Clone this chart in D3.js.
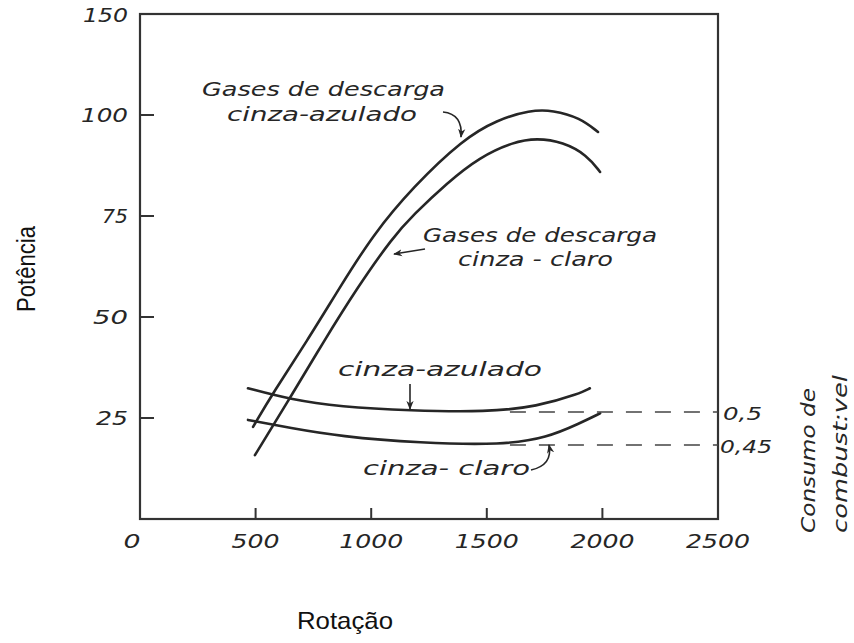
<!DOCTYPE html>
<html>
<head>
<meta charset="utf-8">
<script src="https://cdn.jsdelivr.net/npm/d3@7"></script>
<style>
body { margin: 0; background: #fff; }
.hand { font-family: "DejaVu Sans", sans-serif; font-style: italic; fill: #262626; }
.plain { font-family: "Liberation Sans", Arial, sans-serif; fill: #111; }
</style>
</head>
<body>
<svg id="chart" width="854" height="643"></svg>
<script>
// potência curves (rotação, potência)
var gasAzulRpm = [489, 575, 722, 865, 1008, 1181, 1397, 1544, 1687, 1786, 1903, 1981];
var gasAzulPot = [22.8, 31.2, 44.0, 57.4, 70.4, 82.2, 94.0, 98.8, 101.2, 101.2, 99.3, 95.8];
var gasClaroRpm = [497, 649, 791, 939, 1094, 1181, 1328, 1470, 1613, 1717, 1830, 1933, 1990];
var gasClaroPot = [15.8, 30.0, 43.6, 57.2, 69.8, 75.2, 83.2, 89.6, 93.3, 94.3, 93.3, 90.1, 85.9];

// consumo de combustível curves (rotação, consumo)
var consAzulRpm = [467, 649, 865, 1168, 1501, 1717, 1903, 1946];
var consAzulVal = [0.536, 0.519, 0.508, 0.502, 0.500, 0.508, 0.528, 0.536];
var consClaroRpm = [467, 649, 865, 1211, 1570, 1760, 1903, 1990];
var consClaroVal = [0.488, 0.476, 0.463, 0.453, 0.450, 0.461, 0.483, 0.498];

// dashed reference lines on the right axis
var fuelRefValues = [0.5, 0.45];
var fuelRefLabels = ["0,5", "0,45"];
var fuelRefStart = [1600, 1600];

// ticks
var xTickValues = [0, 500, 1000, 1500, 2000, 2500];
var xTickLabels = ["0", "500", "1000", "1500", "2000", "2500"];
var yTickValues = [25, 50, 75, 100];
var yTickLabels = ["25", "50", "75", "100"];
var yTopLabel = "150";   // the original prints 150 at the top edge

function renderChart() {
	var svg = d3.select("#chart");
	var ink = "#262626";

	var x = d3.scaleLinear().domain([0, 2500]).range([140, 718]);
	var y = d3.scaleLinear().domain([0, 125]).range([519, 14]);
	var yFuel = d3.scaleLinear().domain([0.45, 0.5]).range([445, 412]);

	var defs = svg.append("defs");
	defs.append("marker")
		.attr("id", "head")
		.attr("viewBox", "0 0 10 8")
		.attr("refX", 9).attr("refY", 4)
		.attr("markerWidth", 9).attr("markerHeight", 8)
		.attr("markerUnits", "userSpaceOnUse")
		.attr("orient", "auto")
		.append("path").attr("d", "M0,0 L10,4 L0,8 L3,4 Z").attr("fill", ink);

	// frame
	svg.append("rect")
		.attr("x", x(0)).attr("y", y(125))
		.attr("width", x(2500) - x(0)).attr("height", y(0) - y(125))
		.attr("fill", "none").attr("stroke", "#333").attr("stroke-width", 2.2);

	// y ticks (inside)
	svg.append("g").selectAll("line").data(yTickValues).enter().append("line")
		.attr("x1", x(0)).attr("x2", x(0) + 14)
		.attr("y1", function(d) { return y(d); })
		.attr("y2", function(d) { return y(d); })
		.attr("stroke", "#333").attr("stroke-width", 2);
	var yLabWidth = { "25": 32, "50": 35, "75": 26, "100": 47 };
	svg.append("g").selectAll("text").data(yTickValues).enter().append("text")
		.attr("class", "hand")
		.attr("x", 128)
		.attr("y", function(d) { return y(d) + 7; })
		.attr("text-anchor", "end")
		.attr("font-size", 19)
		.attr("textLength", function(d, i) { return yLabWidth[yTickLabels[i]]; })
		.attr("lengthAdjust", "spacingAndGlyphs")
		.text(function(d, i) { return yTickLabels[i]; });
	svg.append("text").attr("class", "hand")
		.attr("x", 128).attr("y", y(125) + 8)
		.attr("text-anchor", "end").attr("font-size", 19)
		.attr("textLength", 45).attr("lengthAdjust", "spacingAndGlyphs")
		.text(yTopLabel);

	// x ticks (inside, except ends)
	svg.append("g").selectAll("line").data(xTickValues.slice(1, -1)).enter().append("line")
		.attr("x1", function(d) { return x(d); })
		.attr("x2", function(d) { return x(d); })
		.attr("y1", y(0)).attr("y2", y(0) - 11)
		.attr("stroke", "#333").attr("stroke-width", 2);
	svg.append("g").selectAll("text").data(xTickValues).enter().append("text")
		.attr("class", "hand")
		.attr("x", function(d) { return x(d) + (d == 0 ? -8 : 0); })
		.attr("y", 548)
		.attr("text-anchor", "middle")
		.attr("font-size", 19)
		.attr("textLength", function(d, i) { return xTickLabels[i].length == 1 ? 17 : xTickLabels[i].length * 16; })
		.attr("lengthAdjust", "spacingAndGlyphs")
		.text(function(d, i) { return xTickLabels[i]; });

	// curves
	var line = d3.line()
		.x(function(d) { return x(d[0]); })
		.y(function(d) { return d[2](d[1]); })
		.curve(d3.curveBasis);
	var series = [
		[gasAzulRpm, gasAzulPot, y],
		[gasClaroRpm, gasClaroPot, y],
		[consAzulRpm, consAzulVal, yFuel],
		[consClaroRpm, consClaroVal, yFuel]
	];
	var g_line = svg.append("g");
	for (var i = 0; i < series.length; ++i) {
		var pts = series[i][0].map(function(r, j) { return [r, series[i][1][j], series[i][2]]; });
		g_line.append("path")
			.attr("d", line(pts))
			.attr("fill", "none")
			.attr("stroke", ink)
			.attr("stroke-width", 2.6)
			.attr("stroke-linecap", "round");
	}

	// dashed reference lines and right labels
	svg.append("g").selectAll("line").data(fuelRefValues).enter().append("line")
		.attr("x1", function(d, i) { return x(fuelRefStart[i]); })
		.attr("x2", x(2500))
		.attr("y1", function(d) { return yFuel(d); })
		.attr("y2", function(d) { return yFuel(d); })
		.attr("stroke", "#444").attr("stroke-width", 1.6)
		.attr("stroke-dasharray", "16,13");
	svg.append("g").selectAll("text").data(fuelRefValues).enter().append("text")
		.attr("class", "hand")
		.attr("x", function(d, i) { return i == 0 ? 723 : 720; })
		.attr("y", function(d) { return yFuel(d) + 8; })
		.attr("font-size", 18)
		.attr("textLength", function(d, i) { return i == 0 ? 39 : 52; })
		.attr("lengthAdjust", "spacingAndGlyphs")
		.text(function(d, i) { return fuelRefLabels[i]; });

	// annotations
	var notes = [
		{ t: "Gases de descarga", x: 202, y: 96, w: 243 },
		{ t: "cinza-azulado", x: 227, y: 121, w: 190 },
		{ t: "Gases de descarga", x: 423, y: 242, w: 234 },
		{ t: "cinza - claro", x: 458, y: 266, w: 155 },
		{ t: "cinza-azulado", x: 338, y: 376, w: 204 },
		{ t: "cinza- claro", x: 363, y: 475, w: 167 }
	];
	svg.append("g").selectAll("text").data(notes).enter().append("text")
		.attr("class", "hand")
		.attr("x", function(d) { return d.x; })
		.attr("y", function(d) { return d.y; })
		.attr("font-size", 19)
		.attr("textLength", function(d) { return d.w; })
		.attr("lengthAdjust", "spacingAndGlyphs")
		.text(function(d) { return d.t; });

	var arrows = [
		"M443,112 Q463,114 461,137",
		"M425,249 L394,254",
		"M410,384 L410,409",
		"M531,470 Q553,465 549,445"
	];
	svg.append("g").selectAll("path").data(arrows).enter().append("path")
		.attr("d", function(d) { return d; })
		.attr("fill", "none").attr("stroke", ink).attr("stroke-width", 1.6)
		.attr("marker-end", "url(#head)");

	// axis titles
	svg.append("text").attr("class", "plain")
		.attr("transform", "translate(35,269) rotate(-90)")
		.attr("text-anchor", "middle").attr("font-size", 26)
		.attr("textLength", 86).attr("lengthAdjust", "spacingAndGlyphs")
		.text("Potência");
	svg.append("text").attr("class", "plain")
		.attr("x", 345).attr("y", 629)
		.attr("text-anchor", "middle").attr("font-size", 24)
		.attr("textLength", 96).attr("lengthAdjust", "spacingAndGlyphs")
		.text("Rotação");
	svg.append("text").attr("class", "hand")
		.attr("transform", "translate(815,533) rotate(-90)")
		.attr("font-size", 20)
		.attr("textLength", 145).attr("lengthAdjust", "spacingAndGlyphs")
		.text("Consumo de");
	svg.append("text").attr("class", "hand")
		.attr("transform", "translate(847,533) rotate(-90)")
		.attr("font-size", 20)
		.attr("textLength", 158).attr("lengthAdjust", "spacingAndGlyphs")
		.text("combust:vel");
}

renderChart();
</script>
</body>
</html>
